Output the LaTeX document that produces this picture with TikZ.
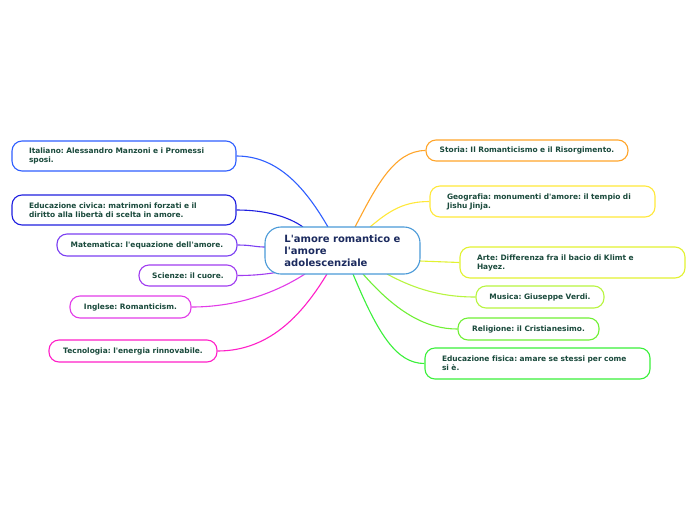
\documentclass[tikz,border=0pt]{standalone}
\usepackage{fontspec}
\setmainfont{DejaVu Sans}[Ligatures={TeXOff,NoCommon}]
\frenchspacing
\definecolor{leaftext}{HTML}{1A4A3C}
\definecolor{centext}{HTML}{1B2A5E}
\definecolor{cenborder}{HTML}{4A9AD8}
\definecolor{cital}{HTML}{2F5FFF}
\definecolor{cciv}{HTML}{1F1FE0}
\definecolor{cmat}{HTML}{7B3FF2}
\definecolor{csci}{HTML}{A03CF0}
\definecolor{cing}{HTML}{E23CE8}
\definecolor{ctec}{HTML}{FF1FC8}
\definecolor{csto}{HTML}{FFA52A}
\definecolor{cgeo}{HTML}{FFE83A}
\definecolor{cart}{HTML}{E2F230}
\definecolor{cmus}{HTML}{B8F540}
\definecolor{crel}{HTML}{70F035}
\definecolor{cfis}{HTML}{3AF03A}
\tikzset{
  leaf/.style={draw=#1, line width=1.1pt, rounded corners=10pt, fill=white,
    font=\fontsize{7.45}{9}\selectfont\bfseries, text=leaftext,
    inner xsep=0pt, inner ysep=0pt},
  central/.style={draw=cenborder, line width=1.1pt, rounded corners=16pt, fill=white,
    font=\fontsize{10}{12}\selectfont\bfseries, text=centext,
    inner xsep=0pt, inner ysep=0pt, align=left},
  link/.style={draw=#1, line width=1.1pt}
}
\begin{document}
\begin{tikzpicture}[x=1pt,y=-1pt]
\path[fill=white] (0,0) rectangle (696,520);
\useasboundingbox (0,0) rectangle (696,520);

\coordinate (pital) at (328,227);
\coordinate (pciv) at (303,227);
\coordinate (pmat) at (265,247);
\coordinate (psci) at (279,272);
\coordinate (ping) at (305,274);
\coordinate (ptec) at (327,274);
\coordinate (psto) at (355,227);
\coordinate (pgeo) at (370,227);
\coordinate (part) at (420,261);
\coordinate (pmus) at (387,274);
\coordinate (prel) at (363,274);
\coordinate (pfis) at (353,274);

\node[leaf=cital, minimum width=224pt, minimum height=30pt, text width=190pt, align=left] (ital) at (124,156) {Italiano: Alessandro Manzoni e i Promessi\\sposi.};
\node[leaf=cciv, minimum width=224pt, minimum height=30pt, text width=190pt, align=left] (civ) at (124,210) {Educazione civica: matrimoni forzati e il\\diritto alla libertà di scelta in amore.};
\node[leaf=cmat, minimum width=180pt, minimum height=22pt, text width=170pt, align=center] (mat) at (147,245) {Matematica: l'equazione dell'amore.};
\node[leaf=csci, minimum width=98pt, minimum height=21pt, text width=90pt, align=center] (sci) at (188,275.5) {Scienze: il cuore.};
\node[leaf=cing, minimum width=121pt, minimum height=22pt, text width=110pt, align=center] (ing) at (130.5,307) {Inglese: Romanticism.};
\node[leaf=ctec, minimum width=168pt, minimum height=22pt, text width=160pt, align=center] (tec) at (133,351) {Tecnologia: l'energia rinnovabile.};

\node[leaf=csto, minimum width=202pt, minimum height=21pt, text width=195pt, align=center] (sto) at (527,150.5) {Storia: Il Romanticismo e il Risorgimento.};
\node[leaf=cgeo, minimum width=225pt, minimum height=31pt, text width=191pt, align=left] (geo) at (542.5,201.5) {Geografia: monumenti d'amore: il tempio di\\Jishu Jinja.};
\node[leaf=cart, minimum width=225pt, minimum height=31pt, text width=191pt, align=left] (art) at (572.5,262.5) {Arte: Differenza fra il bacio di Klimt e\\Hayez.};
\node[leaf=cmus, minimum width=128pt, minimum height=22pt, text width=120pt, align=center] (mus) at (540,297) {Musica: Giuseppe Verdi.};
\node[leaf=crel, minimum width=141pt, minimum height=22pt, text width=135pt, align=center] (rel) at (528.5,329) {Religione: il Cristianesimo.};
\node[leaf=cfis, minimum width=225pt, minimum height=31pt, text width=191pt, align=left] (fis) at (537.5,363.5) {Educazione fisica: amare se stessi per come\\si è.};

\draw[link=cital] (ital.east) .. controls +(42,0) and +(-22,-38) .. (pital);
\draw[link=cciv] (civ.east) .. controls +(30,0) and +(-14,-10) .. (pciv);
\draw[link=cmat] (mat.east) .. controls +(14,0) and +(-10,0) .. (pmat);
\draw[link=csci] (sci.east) .. controls +(18,0) and +(-12,2) .. (psci);
\draw[link=cing] (ing.east) .. controls +(50,0) and +(-25,16) .. (ping);
\draw[link=ctec] (tec.east) .. controls +(55,0) and +(-22,36) .. (ptec);

\draw[link=csto] (sto.west) .. controls +(-32,0) and +(20,-38) .. (psto);
\draw[link=cgeo] (geo.west) .. controls +(-25,0) and +(20,-17) .. (pgeo);
\draw[link=cart] (art.west) .. controls +(-20,0) and +(20,0) .. (part);
\draw[link=cmus] (mus.west) .. controls +(-28,0) and +(33,18) .. (pmus);
\draw[link=crel] (rel.west) .. controls +(-30,0) and +(35,40) .. (prel);
\draw[link=cfis] (fis.west) .. controls +(-28,0) and +(25,60) .. (pfis);

\node[central, minimum width=155pt, minimum height=47pt] (cen) at (342.5,250.5) {L'amore romantico e\\l'amore\\adolescenziale};
\end{tikzpicture}
\end{document}
